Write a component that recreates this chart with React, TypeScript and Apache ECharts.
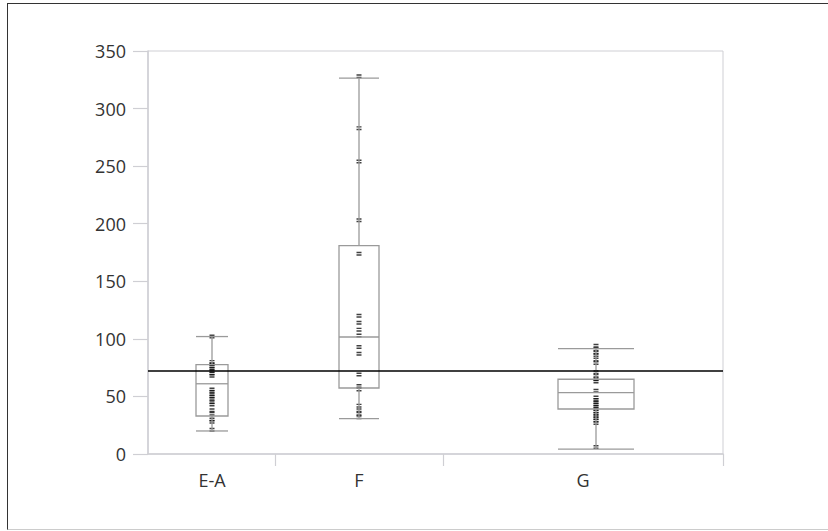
import React, { useEffect, useRef } from "react";
import * as echarts from "echarts";

// ---- data ----
const categories = ["E-A", "F", "G"];
// [lower whisker, Q1, median, Q3, upper whisker]
const boxStats = [
  [20, 33, 61, 77.6, 102],
  [30.7, 57.3, 101.6, 181, 326.4],
  [4.3, 39.1, 53.3, 64.9, 91.5],
];
const pointsEA = [102, 80, 78, 76, 74, 72, 70, 68, 56, 54, 52, 50, 48, 45, 43, 38, 35, 30, 28, 21];
const pointsF = [328, 283, 254, 203, 174, 120, 114, 108, 103, 93, 87, 69, 59, 56, 42, 38, 35, 32];
const pointsG = [94, 91, 88, 86, 82, 79, 71, 68, 65, 63, 55, 49, 47, 45, 43, 41, 39, 37, 35, 33, 31, 29, 27, 6];
const refValue = 72;
const yTickLabels = [0, 50, 100, 150, 200, 250, 300, 350];

// ---- layout (variable-width categories) ----
const catEdges = [0, 127, 295, 575];
const labelCenters = [64, 211, 435];
const boxCenters = [64, 211, 448];
const boxWidths = [32, 40, 76];

const FONT = "'Open Sans', 'DejaVu Sans', sans-serif";
const GRAY = "#9a9a9a";
const AXIS_GRAY = "#cfcfd4";

export default function App() {
  const ref = useRef<HTMLDivElement>(null);
  useEffect(() => {
    if (!ref.current) return;
    const chart = echarts.init(ref.current, undefined, { renderer: "svg" });
    const allPoints = [pointsEA, pointsF, pointsG];
    const scatterData: number[][] = [];
    allPoints.forEach((arr, i) => arr.forEach((v) => scatterData.push([boxCenters[i], v])));
    const boxData = boxStats.map((s, i) => [boxCenters[i], ...s, boxWidths[i]]);

    chart.setOption({
      animation: false,
      grid: {
        left: 148,
        top: 51,
        width: 575,
        height: 403,
        show: true,
        borderColor: AXIS_GRAY,
        borderWidth: 1,
      },
      xAxis: {
        type: "value",
        min: 0,
        max: 575,
        splitLine: { show: false },
        axisLine: { show: true, lineStyle: { color: AXIS_GRAY, width: 1.5 } },
        axisTick: {
          show: true,
          length: 12,
          customValues: catEdges.slice(1),
          lineStyle: { color: AXIS_GRAY, width: 1.2 },
        },
        axisLabel: {
          customValues: labelCenters,
          formatter: (v: number) => {
            const i = labelCenters.indexOf(v);
            return i >= 0 ? categories[i] : "";
          },
          color: "#333",
          fontSize: 18,
          fontFamily: FONT,
          margin: 17,
        },
      },
      yAxis: {
        type: "value",
        min: 0,
        max: 350,
        interval: 50,
        splitLine: { show: false },
        axisLine: { show: true, lineStyle: { color: AXIS_GRAY, width: 1.5 } },
        axisTick: { show: true, length: 15, lineStyle: { color: AXIS_GRAY, width: 1.2 } },
        axisLabel: {
          color: "#333",
          fontSize: 18,
          fontFamily: FONT,
          margin: 22,
          formatter: (v: number) => (yTickLabels.includes(v) ? String(v) : ""),
        },
      },
      series: [
        {
          type: "scatter",
          data: scatterData,
          symbol: "path://M0,0H6V1.4H0Z M0,2.4H6V3.8H0Z",
          symbolSize: [5, 4],
          itemStyle: { color: "#111" },
          z: 2,
          silent: true,
        },
        {
          type: "custom",
          z: 3,
          silent: true,
          data: boxData,
          renderItem: (params: any, api: any) => {
            const cx = api.value(0);
            const w = api.value(6);
            const [x0] = api.coord([cx - w / 2, 0]);
            const [x1] = api.coord([cx + w / 2, 0]);
            const [xc] = api.coord([cx, 0]);
            const yMin = api.coord([cx, api.value(1)])[1];
            const yQ1 = api.coord([cx, api.value(2)])[1];
            const yMed = api.coord([cx, api.value(3)])[1];
            const yQ3 = api.coord([cx, api.value(4)])[1];
            const yMax = api.coord([cx, api.value(5)])[1];
            const st = { stroke: GRAY, lineWidth: 1.3, fill: "none" };
            return {
              type: "group",
              children: [
                { type: "rect", shape: { x: x0, y: yQ3, width: x1 - x0, height: yQ1 - yQ3 }, style: st },
                { type: "line", shape: { x1: x0, y1: yMed, x2: x1, y2: yMed }, style: st },
                { type: "line", shape: { x1: xc, y1: yQ3, x2: xc, y2: yMax }, style: st },
                { type: "line", shape: { x1: xc, y1: yQ1, x2: xc, y2: yMin }, style: st },
                { type: "line", shape: { x1: x0, y1: yMax, x2: x1, y2: yMax }, style: st },
                { type: "line", shape: { x1: x0, y1: yMin, x2: x1, y2: yMin }, style: st },
              ],
            };
          },
        },
        {
          type: "line",
          data: [],
          markLine: {
            silent: true,
            symbol: "none",
            label: { show: false },
            lineStyle: { color: "#000", width: 1.5, type: "solid" },
            data: [{ yAxis: refValue }],
          },
          z: 4,
        },
      ],
    });
    return () => chart.dispose();
  }, []);

  return (
    <div style={{ position: "fixed", left: 0, top: 0, width: 828, height: 531, background: "#fff" }}>
      <div ref={ref} style={{ width: 828, height: 531 }} />
      <div
        style={{
          position: "absolute",
          left: 7,
          top: 3,
          width: 830,
          height: 527,
          borderLeft: "1px solid #333",
          borderTop: "1px solid #333",
          borderBottom: "1px solid #ccc",
          pointerEvents: "none",
          boxSizing: "border-box",
        }}
      />
    </div>
  );
}
